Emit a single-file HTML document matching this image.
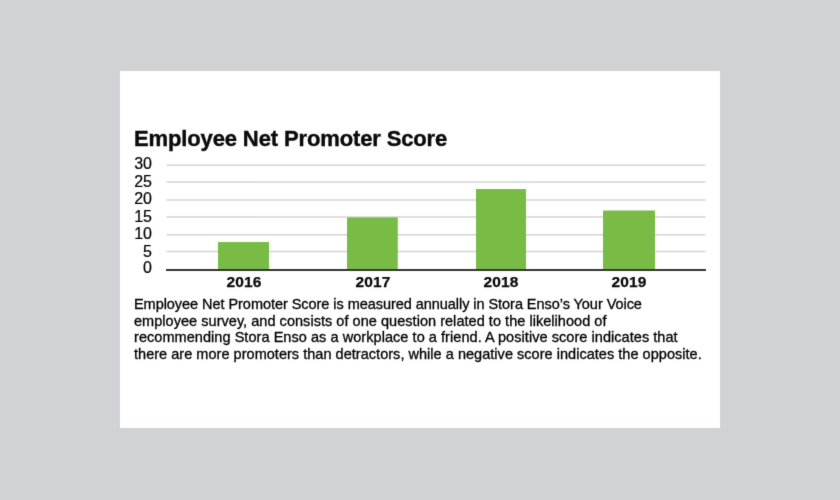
<!DOCTYPE html>
<html><head><meta charset="utf-8">
<style>
html,body{margin:0;padding:0;}
body{width:840px;height:500px;background:#d0d2d5;position:relative;overflow:hidden;font-family:"Liberation Sans",sans-serif;color:#0a0a0a;}
#card{position:absolute;left:120px;top:71px;width:600px;height:357px;background:#fff;}
.t{position:absolute;white-space:nowrap;line-height:1;}
#title{left:134px;top:127.5px;font-size:22px;font-weight:bold;letter-spacing:-0.13px;-webkit-text-stroke:0.4px #0a0a0a;}
.yl{position:absolute;right:688px;font-size:16px;line-height:16px;text-align:right;-webkit-text-stroke:0.2px #000;color:#000;}
#axis{position:absolute;left:166px;width:540px;top:269px;height:2px;background:#363636;}
.xl{position:absolute;font-size:15.5px;font-weight:bold;line-height:15px;width:60px;text-align:center;letter-spacing:0.12px;-webkit-text-stroke:0.25px #0a0a0a;}
.bl{position:absolute;left:134px;font-size:14.5px;line-height:14px;white-space:nowrap;-webkit-text-stroke:0.3px #000;color:#000;}
</style></head><body>
<svg width="0" height="0" style="position:absolute"><filter id="soft" x="0" y="0" width="100%" height="100%" color-interpolation-filters="sRGB"><feConvolveMatrix order="3" kernelMatrix="1 8 1 8 64 8 1 8 1" edgeMode="duplicate"/></filter></svg>
<div id="wrap" style="position:absolute;left:0;top:0;width:840px;height:500px;background:#d0d2d5;will-change:transform;filter:url(#soft)">
<div id="card"></div>
<div class="t" id="title">Employee Net Promoter Score</div>

<svg style="position:absolute;left:0;top:0" width="840" height="500">
<g stroke="#d4d4d4" stroke-width="1.5" stroke-linecap="round">
<line x1="167" y1="165.2" x2="705" y2="165.2"/>
<line x1="167" y1="182.1" x2="705" y2="182.1"/>
<line x1="167" y1="200.1" x2="705" y2="200.1"/>
<line x1="167" y1="216.9" x2="705" y2="216.9"/>
<line x1="167" y1="234.8" x2="705" y2="234.8"/>
<line x1="167" y1="251.6" x2="705" y2="251.6"/>
</g></svg>
<svg style="position:absolute;left:0;top:0" width="840" height="500"><g fill="#79bc45">
<rect x="218" y="242" width="51" height="28"/>
<rect x="347" y="217.4" width="50.8" height="52.6"/>
<rect x="476" y="189" width="50" height="81"/>
<rect x="603" y="210.5" width="52" height="59.5"/>
</g></svg>
<div id="axis"></div>

<div class="yl" id="y30" style="top:156px">30</div>
<div class="yl" id="y25" style="top:174px">25</div>
<div class="yl" id="y20" style="top:191px">20</div>
<div class="yl" id="y15" style="top:209px">15</div>
<div class="yl" id="y10" style="top:226px">10</div>
<div class="yl" id="y5" style="top:244px">5</div>
<div class="yl" id="y0" style="top:260px">0</div>


<div class="xl" id="x16" style="left:214px;top:274px">2016</div>
<div class="xl" id="x17" style="left:343px;top:274px">2017</div>
<div class="xl" id="x18" style="left:471px;top:274px">2018</div>
<div class="xl" id="x19" style="left:599px;top:274px">2019</div>

<div class="bl" id="l1" style="top:297px;letter-spacing:-0.049px">Employee Net Promoter Score is measured annually in Stora Enso’s Your Voice</div>
<div class="bl" id="l2" style="top:314px;letter-spacing:0.038px">employee survey, and consists of one question related to the likelihood of</div>
<div class="bl" id="l3" style="top:330px;letter-spacing:0.054px">recommending Stora Enso as a workplace to a friend. A positive score indicates that</div>
<div class="bl" id="l4" style="top:347px;letter-spacing:0.031px">there are more promoters than detractors, while a negative score indicates the opposite.</div>
</div>
</body></html>
